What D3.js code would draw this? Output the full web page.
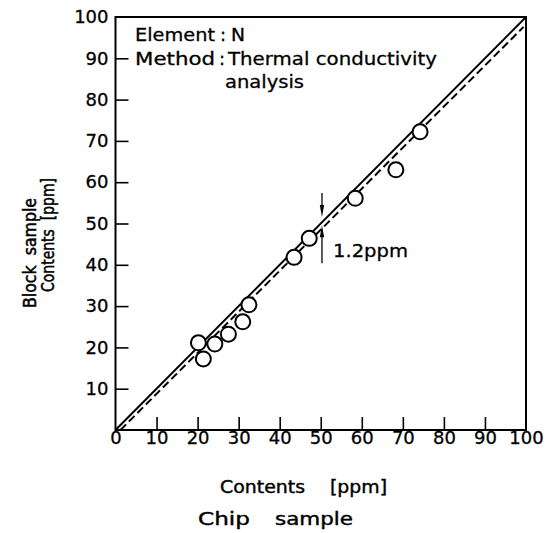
<!DOCTYPE html>
<html>
<head>
<meta charset="utf-8">
<script src="https://cdn.jsdelivr.net/npm/d3@7/dist/d3.min.js"></script>
<style>
  html, body { margin: 0; padding: 0; background: #fff; }
  svg { display: block; }
  text { font-family: "DejaVu Sans", sans-serif; fill: #000; }
</style>
</head>
<body>
<svg id="chart" width="558" height="533"></svg>
<script>
// ---- data ----
const chipContents  = [20.2, 21.4, 24.2, 27.5, 31.0, 32.5, 43.5, 47.2, 58.4, 68.3, 74.2];
const blockContents = [21.1, 17.2, 20.8, 23.2, 26.2, 30.3, 41.8, 46.4, 56.1, 63.0, 72.2];
const xTickValues = [0, 10, 20, 30, 40, 50, 60, 70, 80, 90, 100];
const yTickValues = [10, 20, 30, 40, 50, 60, 70, 80, 90, 100];
const offsetPpm = 1.2;          // dashed line: block = chip - 1.2
const arrowChip = 50.3;
const arrowUpper = [57.4, 51.6]; // from, to (block ppm)
const arrowLower = [40.4, 49.6];
const offsetLabel = "1.2ppm";

const svg = d3.select("#chart");
const x = d3.scaleLinear().domain([0, 100]).range([115.5, 526]);
const y = d3.scaleLinear().domain([0, 100]).range([430, 17]);

// frame
svg.append("rect")
  .attr("x", x(0)).attr("y", y(100))
  .attr("width", x(100) - x(0)).attr("height", y(0) - y(100))
  .attr("fill", "none").attr("stroke", "#000").attr("stroke-width", 2);

// x axis
const xAxis = d3.axisBottom(x).tickValues(xTickValues).tickSize(-13).tickPadding(1)
  .tickFormat(d3.format("d"));
const gx = svg.append("g").attr("transform", `translate(0,${y(0)})`).call(xAxis)
  .attr("font-size", 18).attr("font-family", "DejaVu Sans");
gx.select(".domain").remove();
gx.selectAll(".tick line").attr("stroke", "#000").attr("stroke-width", 1.6)
  .attr("display", d => (d === 0 || d === 100) ? "none" : null);
gx.selectAll(".tick text").attr("fill", "#000").attr("stroke", "#000").attr("stroke-width", 0.3);

// y axis
const yAxis = d3.axisLeft(y).tickValues(yTickValues).tickSize(-13).tickPadding(7)
  .tickFormat(d3.format("d"));
const gy = svg.append("g").attr("transform", `translate(${x(0)},0)`).call(yAxis)
  .attr("font-size", 18).attr("font-family", "DejaVu Sans");
gy.select(".domain").remove();
gy.selectAll(".tick line").attr("stroke", "#000").attr("stroke-width", 1.6)
  .attr("display", d => d === 100 ? "none" : null);
gy.selectAll(".tick text").attr("fill", "#000").attr("stroke", "#000").attr("stroke-width", 0.3);

// lines
svg.append("line")
  .attr("x1", x(0)).attr("y1", y(0)).attr("x2", x(100)).attr("y2", y(100))
  .attr("stroke", "#000").attr("stroke-width", 2);
svg.append("line")
  .attr("x1", x(offsetPpm)).attr("y1", y(0)).attr("x2", x(99.4)).attr("y2", y(99.4 - offsetPpm - 0.6))
  .attr("stroke", "#000").attr("stroke-width", 2).attr("stroke-dasharray", "8,4");

// points
svg.append("g").selectAll("circle")
  .data(chipContents.map((c, i) => [c, blockContents[i]]))
  .join("circle")
  .attr("cx", d => x(d[0])).attr("cy", d => y(d[1])).attr("r", 7.5)
  .attr("fill", "#fff").attr("stroke", "#000").attr("stroke-width", 2);

// arrows
function arrow(from, to) {
  const ax = x(arrowChip);
  const y0 = y(from), y1 = y(to);
  const dir = Math.sign(y1 - y0);
  svg.append("line").attr("x1", ax).attr("x2", ax).attr("y1", y0).attr("y2", y1 - dir * 8)
    .attr("stroke", "#000").attr("stroke-width", 1.3);
  svg.append("path")
    .attr("d", `M${ax - 2.2},${y1 - dir * 12} L${ax + 2.2},${y1 - dir * 12} L${ax},${y1} Z`)
    .attr("fill", "#000");
}
arrow(arrowUpper[0], arrowUpper[1]);
arrow(arrowLower[0], arrowLower[1]);
svg.append("text").attr("x", 333).attr("y", 257).attr("font-size", 18)
  .attr("stroke", "#000").attr("stroke-width", 0.3)
  .attr("textLength", 75).attr("lengthAdjust", "spacingAndGlyphs").text(offsetLabel);

// legend text
const lg = [
  { t: "Element", x: 135, y: 41, w: 80 },
  { t: ":", x: 220, y: 41 },
  { t: "N", x: 231, y: 41, w: 14 },
  { t: "Method", x: 135, y: 65, w: 80 },
  { t: ":", x: 219, y: 65 },
  { t: "Thermal conductivity", x: 228, y: 65, w: 209 },
  { t: "analysis", x: 225, y: 88, w: 79 }
];
svg.append("g").selectAll("text").data(lg).join("text")
  .attr("x", d => d.x).attr("y", d => d.y).attr("font-size", 18)
  .attr("stroke", "#000").attr("stroke-width", 0.3)
  .attr("textLength", d => d.w || null)
  .attr("lengthAdjust", "spacingAndGlyphs")
  .text(d => d.t);

// x title
const xt = [
  { t: "Contents", x: 220, y: 493, w: 85 },
  { t: "[ppm]", x: 330, y: 493, w: 57 },
  { t: "Chip", x: 198, y: 525, w: 52 },
  { t: "sample", x: 275, y: 525, w: 78 }
];
svg.append("g").selectAll("text").data(xt).join("text")
  .attr("x", d => d.x).attr("y", d => d.y).attr("font-size", 17)
  .attr("stroke", "#000").attr("stroke-width", 0.4)
  .attr("textLength", d => d.w).attr("lengthAdjust", "spacingAndGlyphs")
  .text(d => d.t);

// y title (rotated)
const yt = [
  { t: "Block  sample", bx: 36, cy: 253, w: 110 },
  { t: "Contents  [ppm]", bx: 54, cy: 235, w: 114 }
];
svg.append("g").selectAll("text").data(yt).join("text")
  .attr("transform", d => `translate(${d.bx},${d.cy}) rotate(-90)`)
  .attr("text-anchor", "middle").attr("font-size", 17)
  .attr("stroke", "#000").attr("stroke-width", 0.5)
  .style("white-space", "pre")
  .attr("textLength", d => d.w).attr("lengthAdjust", "spacingAndGlyphs")
  .text(d => d.t);
</script>
</body>
</html>
